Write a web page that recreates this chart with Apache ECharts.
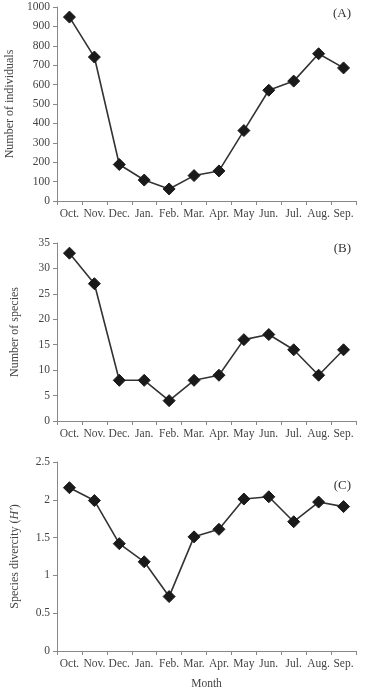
<!DOCTYPE html>
<html><head><meta charset="utf-8">
<script src="https://cdn.jsdelivr.net/npm/echarts@6/dist/echarts.min.js"></script>
<style>html,body{margin:0;padding:0;background:#fff}#c{width:365px;height:698px}</style>
</head><body><div id="c"></div>
<script>
var months = ['Oct.','Nov.','Dec.','Jan.','Feb.','Mar.','Apr.','May','Jun.','Jul.','Aug.','Sep.'];
var individuals = [948, 742, 188, 108, 62, 131, 155, 363, 571, 618, 759, 686];
var species = [33, 27, 8, 8, 4, 8, 9, 16, 17, 14, 9, 14];
var diversity = [2.16, 1.99, 1.42, 1.18, 0.72, 1.51, 1.61, 2.01, 2.04, 1.71, 1.97, 1.91];
var panelLabels = ['(A)','(B)','(C)'];

var FONT = '"Liberation Serif", "DejaVu Serif", serif';
var txt = '#444';
var axisCol = '#888';
var grids = [
  {left:57, right:9, top:7, height:194, containLabel:false, outerBoundsMode:'none'},
  {left:57, right:9, top:243, height:178, containLabel:false, outerBoundsMode:'none'},
  {left:57, right:9, top:462, height:189, containLabel:false, outerBoundsMode:'none'}
];
function xAx(i, name){
  return {type:'category', gridIndex:i, data:months, boundaryGap:true,
    axisLine:{lineStyle:{color:axisCol,width:1}},
    axisTick:{show:true, length:4, lineStyle:{color:axisCol}},
    axisLabel:{color:txt, fontFamily:FONT, fontSize:11.5, margin:7, interval:0},
    name:name||'', nameLocation:'middle', nameGap:27,
    nameTextStyle:{color:txt, fontFamily:FONT, fontSize:11.5}};
}
function yAx(i, min, max, interval, name, gap){
  return {type:'value', gridIndex:i, min:min, max:max, interval:interval,
    axisLine:{show:true, lineStyle:{color:axisCol,width:1}},
    axisTick:{show:true, length:4, lineStyle:{color:axisCol}},
    splitLine:{show:false},
    axisLabel:{color:txt, fontFamily:FONT, fontSize:11.5, margin:7,
      formatter:function(v){ return String(v); }},
    name:name, nameLocation:'middle', nameGap:gap, nameRotate:90,
    nameTextStyle:{color:txt, fontFamily:FONT, fontSize:12,
      rich:{i:{fontStyle:'italic', fontFamily:FONT, fontSize:12, color:txt}}}};
}
function ser(i, data){
  return {type:'line', xAxisIndex:i, yAxisIndex:i, data:data,
    symbol:'diamond', symbolSize:12, showSymbol:true,
    lineStyle:{color:'#333', width:1.6},
    itemStyle:{color:'#1a1a1a', borderColor:'#1a1a1a'},
    animation:false};
}
var chart = echarts.init(document.getElementById('c'), null, {renderer:'canvas'});
chart.setOption({
  backgroundColor:'#fff',
  animation:false,
  grid:grids,
  xAxis:[xAx(0), xAx(1), xAx(2,'Month')],
  yAxis:[
    yAx(0, 0, 1000, 100, 'Number of individuals', 36),
    yAx(1, 0, 35, 5, 'Number of species', 36),
    yAx(2, 0, 2.5, 0.5, "Species divercity ({i|H'})", 36)
  ],
  series:[ser(0, individuals), ser(1, species), ser(2, diversity)],
  graphic:[
    {type:'text', right:14, top:7, style:{text:panelLabels[0], fill:'#333', font:'13px '+FONT}},
    {type:'text', right:14, top:242, style:{text:panelLabels[1], fill:'#333', font:'13px '+FONT}},
    {type:'text', right:14, top:479, style:{text:panelLabels[2], fill:'#333', font:'13px '+FONT}}
  ]
});
</script></body></html>
